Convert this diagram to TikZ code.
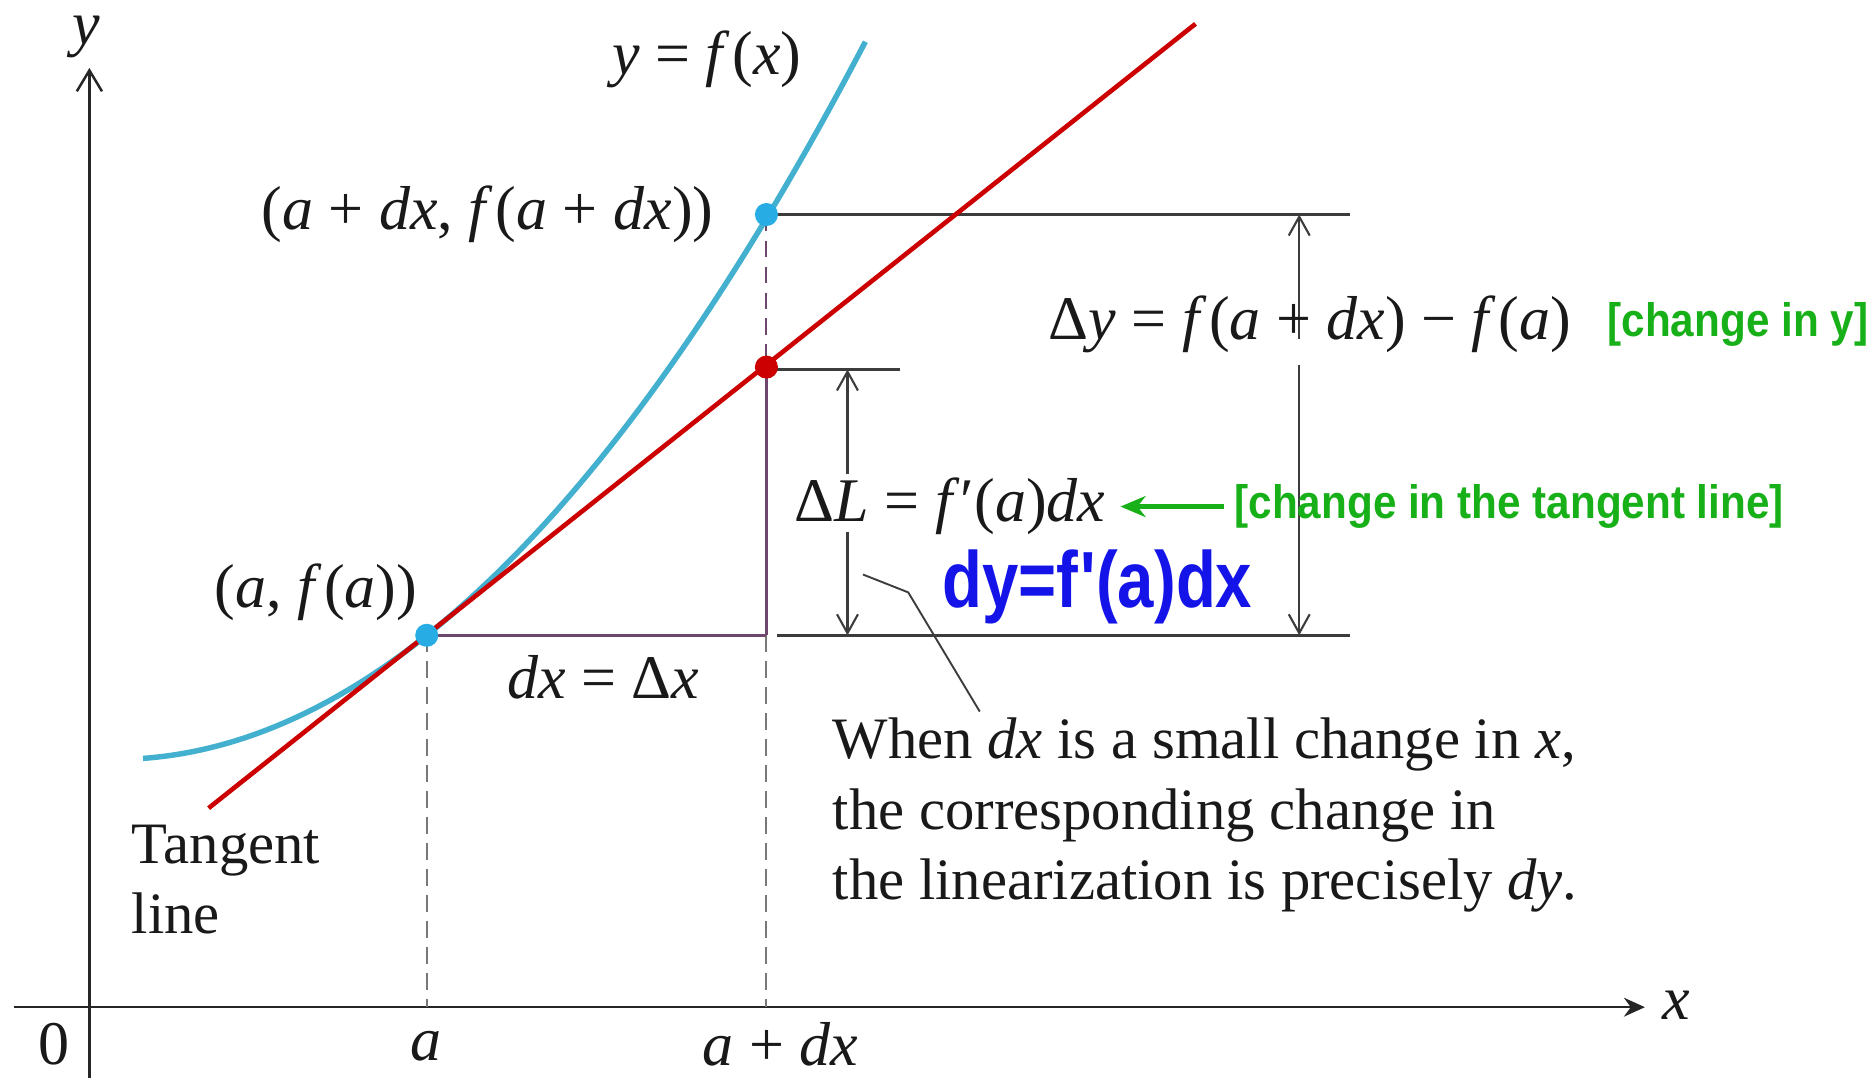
\documentclass[tikz,border=0pt]{standalone}
\usepackage{fontspec}
\setmainfont{Liberation Serif}
\newfontfamily\greenfont[FakeStretch=0.9]{Liberation Sans}
\newfontfamily\handfont[FakeStretch=0.82]{Liberation Sans}
\usetikzlibrary{arrows.meta}
\newcommand\vi[1]{\textit{#1}}
\newcommand\fx{\textit{f}\kern0.6pt}
\definecolor{curvecol}{RGB}{66,176,206}
\definecolor{dotblue}{RGB}{40,172,228}
\definecolor{tanred}{RGB}{204,0,0}
\definecolor{purp}{RGB}{110,70,110}
\definecolor{linegray}{RGB}{60,60,60}
\definecolor{dashgray}{RGB}{120,120,120}
\definecolor{grn}{RGB}{24,176,24}
\definecolor{handblue}{RGB}{20,20,232}
\tikzset{
  lbl/.style={inner sep=0pt, font=\fontsize{14.8}{17}\selectfont, text=black!90},
  txt/.style={inner sep=0pt, font=\fontsize{14}{16.8}\selectfont, align=left, text=black!90},
  grnlbl/.style={inner sep=0pt, anchor=west, font=\greenfont\bfseries\fontsize{11.2}{13}\selectfont, text=grn},
  hand/.style={inner sep=0pt, anchor=west, font=\handfont\bfseries\fontsize{19}{22}\selectfont, text=handblue},
  axisline/.style={line width=0.6pt, draw=black!85},
  guide/.style={line width=0.6pt, draw=linegray},
  purpline/.style={line width=0.6pt, draw=purp},
  dashline/.style={line width=0.5pt, draw=dashgray, dash pattern=on 4pt off 2.2pt},
  dimarrow/.style={line width=0.5pt, draw=linegray},
  barb/.tip={Straight Barb[length=4.5pt,width=5pt,line width=0.5pt]},
  dot/.style={circle, inner sep=0pt, minimum size=5.5pt},
}
\begin{document}
\begin{tikzpicture}[x=0.01cm, y=-0.01cm]
\useasboundingbox[fill=white] (0,0) rectangle (1568,904);

% key points
\coordinate (ybot) at (75,904);
\coordinate (ytop) at (75,57);
\coordinate (xl) at (12,845);
\coordinate (xr) at (1380,845);
\coordinate (Pa) at (358,845);
\coordinate (Qa) at (643,845);
\coordinate (P) at (358,533);
\coordinate (Q) at (643,180);
\coordinate (R) at (643,308);
\coordinate (S) at (643,533);
\coordinate (topL) at (652,180);
\coordinate (topR) at (1133,180);
\coordinate (midL) at (652,310);
\coordinate (midR) at (755,310);
\coordinate (botL) at (652,533);
\coordinate (botR) at (1133,533);
\coordinate (T1) at (175,678);
\coordinate (T2) at (1003,20);
\coordinate (dyTop) at (1090,180);
\coordinate (dyA) at (1090,284);
\coordinate (dyB) at (1090,306);
\coordinate (dyBot) at (1090,533);
\coordinate (dLTop) at (711,310);
\coordinate (dLA) at (711,398);
\coordinate (dLB) at (711,446);
\coordinate (dLBot) at (711,533);
\coordinate (lead1) at (724,482);
\coordinate (lead2) at (762,497);
\coordinate (lead3) at (822,597);
\coordinate (gA) at (1027,425);
\coordinate (gB) at (940,425);

% axes
\draw[axisline, -{Straight Barb[length=5pt,width=6pt,line width=0.6pt]}] (ybot) -- (ytop);
\draw[axisline, -{Stealth[length=5pt,width=4.5pt]}] (xl) -- (xr);

% dashed guides
\draw[dashline] (P) -- (Pa);
\draw[dashline] (S) -- (Qa);
\draw[dashline, draw=purp] (Q) -- (R);
\draw[purpline] (R) -- (S);
\draw[purpline] (P) -- (S);

% horizontal guides
\draw[guide] (topL) -- (topR);
\draw[guide] (midL) -- (midR);
\draw[guide] (botL) -- (botR);

% dimension arrows
\draw[dimarrow, -barb] (dyA) -- (dyTop);
\draw[dimarrow, -barb] (dyB) -- (dyBot);
\draw[dimarrow, -barb] (dLA) -- (dLTop);
\draw[dimarrow, -barb] (dLB) -- (dLBot);

% leader line
\draw[line width=0.45pt, draw=linegray] (lead1) -- (lead2) -- (lead3);

% curve and tangent
\draw[curvecol, line width=1.3pt] plot[domain=120:726, samples=120, smooth]
  (\x, {533 + 15.17*(6.8644 - ((\x-96)/100)^2)});
\draw[tanred, line width=1.1pt] (T1) -- (T2);

% dots
\node[dot, fill=dotblue] (Pdot) at (P) {};
\node[dot, fill=dotblue] (Qdot) at (Q) {};
\node[dot, fill=tanred] (Rdot) at (R) {};

% green arrow
\draw[grn, line width=1.1pt, -{Stealth[length=6pt,width=5pt]}] (gA) -- (gB);

% labels
\node[lbl] (ylab) at (72,31) {\vi{y}};
\node[lbl] (xlab) at (1406,843) {\vi{x}};
\node[lbl] (zero) at (45,876) {0};
\node[lbl] (alab) at (357,878) {\vi{a}};
\node[lbl] (adxlab) at (655,876) {\vi{a} + \vi{dx}};
\node[lbl] (fxlab) at (593,50) {\vi{y} = \fx(\vi{x})};
\node[lbl] (Qlab) at (409,180) {(\vi{a} + \vi{dx}, \fx(\vi{a} + \vi{dx}))};
\node[lbl] (Plab) at (265,497) {(\vi{a}, \fx(\vi{a}))};
\node[lbl] (dxlab) at (506,568) {\vi{dx} = Δ\vi{x}};
\node[lbl] (dylab) at (1099,272) {Δ\vi{y} = \fx(\vi{a} + \vi{dx}) − \fx(\vi{a})};
\node[lbl] (dLlab) at (797,425) {Δ\vi{L} = \vi{f}\kern0.3pt′(\vi{a})\vi{dx}};

\node[txt, anchor=west] (tanlab) at (110,738) {Tangent\\line};
\node[txt, anchor=west] (when) at (698,684) {When \vi{dx} is a small change in \vi{x},\\the corresponding change in\\the linearization is precisely \vi{dy}.};

\node[grnlbl] (chy) at (1348,272) {[change in y]};
\node[grnlbl] (chL) at (1035,425) {[change in the tangent line]};
\node[hand] (dyhand) at (790,492) {dy=f\kern0.5pt'(a)dx};
\end{tikzpicture}
\end{document}
